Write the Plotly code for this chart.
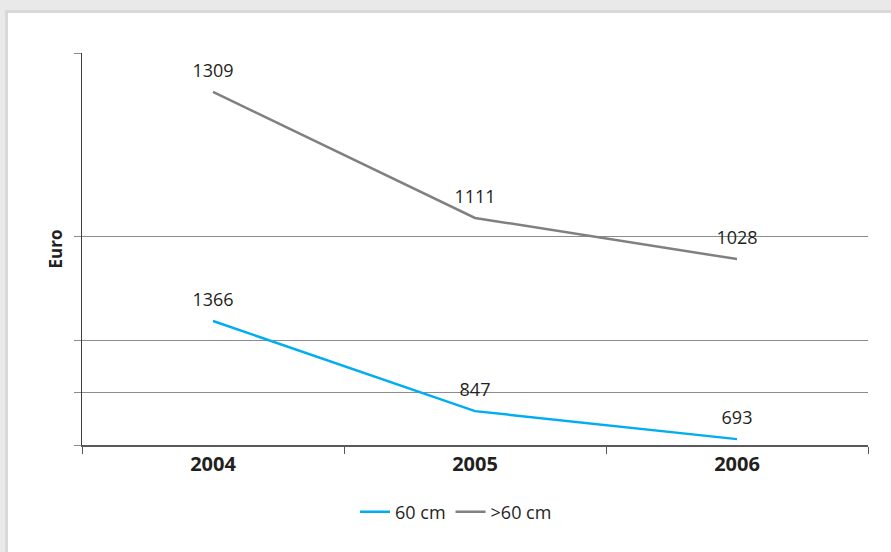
import plotly.graph_objects as go

# Data
years = ["2004", "2005", "2006"]
x_idx = [0, 1, 2]
# value labels as printed on the chart
labels_small = ["1366", "847", "693"]
labels_large = ["1309", "1111", "1028"]
# plotted heights (axis units, axis 0..1400)
y_small = [443, 121, 21]
y_large = [1261, 811, 664]
# gridline levels
grid_levels = [0, 189, 375, 746, 1400]

series_names = ["60 cm", ">60 cm"]
colors = ["#00aeef", "#808080"]
TXT = "#231f20"
FONT = "Open Sans"

fig = go.Figure()
for name, ys, labs, col in [(series_names[0], y_small, labels_small, colors[0]),
                            (series_names[1], y_large, labels_large, colors[1])]:
    fig.add_trace(go.Scatter(
        x=x_idx, y=ys, mode="lines", name=name,
        line=dict(color=col, width=2.5),
        cliponaxis=False, hoverinfo="skip",
    ))
    fig.add_trace(go.Scatter(
        x=x_idx, y=ys, mode="markers+text", showlegend=False,
        marker=dict(size=15, color="rgba(0,0,0,0)"),
        text=labs, textposition="top center",
        textfont=dict(family=FONT, size=18, color=TXT),
        cliponaxis=False, hoverinfo="skip",
    ))

L, R, T, B = 82, 23, 53, 107
W, H = 891, 552
pw, ph = W - L - R, H - T - B

def px2x(px):
    return (px - L) / pw

def py2y(py):
    return (H - B - py) / ph

shapes = [
    dict(type="rect", xref="paper", yref="paper", layer="below",
         x0=px2x(5), x1=px2x(W + 5), y0=py2y(H + 5), y1=py2y(10),
         fillcolor="#d8d8d8", line=dict(width=0)),
    dict(type="rect", xref="paper", yref="paper", layer="below",
         x0=px2x(8), x1=px2x(W + 5), y0=py2y(H + 5), y1=py2y(13),
         fillcolor="white", line=dict(width=0)),
]

fig.update_layout(
    width=W, height=H,
    margin=dict(l=L, r=R, t=T, b=B),
    paper_bgcolor="#e9e9e9",
    plot_bgcolor="white",
    font=dict(family=FONT, color=TXT, size=18),
    shapes=shapes,
    showlegend=True,
    legend=dict(orientation="h", x=px2x(456), xanchor="center", y=py2y(512), yanchor="middle",
                font=dict(family=FONT, size=18, color=TXT), bgcolor="rgba(0,0,0,0)",
                itemwidth=30, tracegroupgap=0),
    xaxis=dict(
        range=[-0.5, 2.5], tickmode="array", tickvals=x_idx,
        ticktext=[f"<b>{y}</b>" for y in years],
        tickfont=dict(family=FONT, size=20, color=TXT),
        ticks="", showgrid=False, zeroline=False,
        showline=True, linecolor="#58595b", linewidth=1.5,
        minor=dict(tickmode="array", tickvals=[-0.5, 0.5, 1.5, 2.5], ticks="outside",
                   ticklen=7, tickcolor="#58595b", tickwidth=1, showgrid=False),
        fixedrange=True,
    ),
    yaxis=dict(
        range=[0, 1400], tickmode="array", tickvals=grid_levels, ticktext=[""] * len(grid_levels),
        showgrid=True, gridcolor="#8c8c8c", gridwidth=1,
        ticks="outside", ticklen=7, tickcolor="#8c8c8c", tickwidth=1,
        showline=True, linecolor="#3c3c3c", linewidth=1, zeroline=False,
        title=dict(text="<b>Euro</b>", font=dict(family=FONT, size=17, color=TXT), standoff=3),
        fixedrange=True,
    ),
)

fig.write_html(
    "out.html",
    config={"displayModeBar": False, "staticPlot": True},
    post_script="document.body.style.margin='0';document.body.style.overflow='hidden';",
)
